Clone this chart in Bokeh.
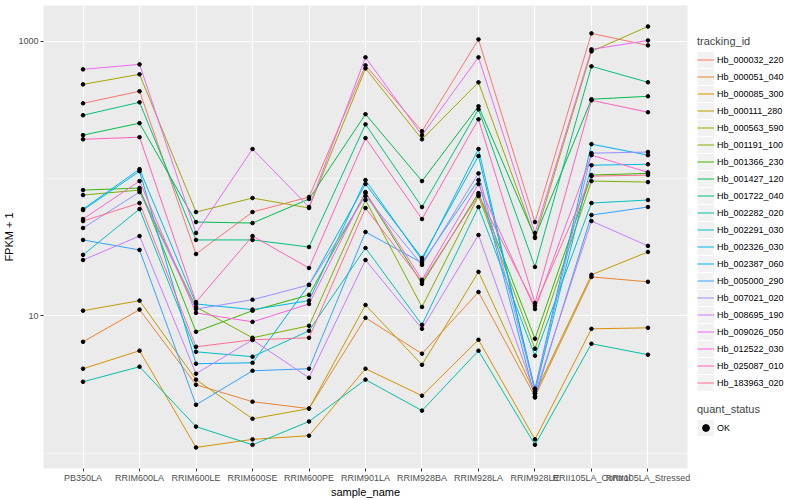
from bokeh.plotting import figure
from bokeh.layouts import row
from bokeh.models import FactorRange, Range1d, FixedTicker, PrintfTickFormatter, Legend, LegendItem
from bokeh.embed import file_html
from bokeh.resources import INLINE

sample_name = ["PB350LA", "RRIM600LA", "RRIM600LE", "RRIM600SE", "RRIM600PE", "RRIM901LA",
               "RRIM928BA", "RRIM928LA", "RRIM928LE", "RRII105LA_Control", "RRII105LA_Stressed"]

tracking_id = ["Hb_000032_220", "Hb_000051_040", "Hb_000085_300", "Hb_000111_280", "Hb_000563_590",
               "Hb_001191_100", "Hb_001366_230", "Hb_001427_120", "Hb_001722_040", "Hb_002282_020",
               "Hb_002291_030", "Hb_002326_030", "Hb_002387_060", "Hb_005000_290", "Hb_007021_020",
               "Hb_008695_190", "Hb_009026_050", "Hb_012522_030", "Hb_025087_010", "Hb_183963_020"]

line_colors = ["#F8766D", "#EA8331", "#D89000", "#C09B00", "#A3A500", "#7CAE00", "#39B600", "#00BB4E",
               "#00BF7D", "#00C1A3", "#00BFC4", "#00BAE0", "#00B0F6", "#35A2FF", "#9590FF", "#C77CFF",
               "#E76BF3", "#FA62DB", "#FF62BC", "#FF6C91"]

# FPKM + 1 per gene, in sample_name order
Hb_000032_220 = [353, 432, 28.2, 57.0, 73.3, 667, 221, 1031, 48.2, 1140, 932]
Hb_000051_040 = [6.47, 11.1, 3.15, 2.37, 2.11, 9.67, 5.30, 14.9, 2.58, 19.2, 17.7]
Hb_000085_300 = [4.12, 5.57, 1.10, 1.26, 1.34, 4.12, 2.62, 6.69, 1.26, 8.04, 8.18]
Hb_000111_280 = [10.9, 12.9, 3.43, 1.78, 2.11, 12.0, 4.40, 20.9, 2.71, 19.9, 29.2]
Hb_000563_590 = [485, 574, 57.0, 72.1, 61.0, 634, 193, 502, 36.9, 843, 1280]
Hb_001191_100 = [75.8, 82.4, 11.6, 6.92, 8.46, 69.7, 11.6, 74.5, 5.76, 95.8, 94.2]
Hb_001366_230 = [82.4, 85.2, 7.65, 10.9, 14.2, 78.3, 17.1, 78.3, 6.81, 106, 109]
Hb_001427_120 = [207, 253, 48.2, 47.4, 70.9, 294, 95.8, 336, 37.5, 378, 397]
Hb_001722_040 = [289, 359, 35.7, 35.7, 31.7, 248, 62.0, 319, 22.7, 656, 502]
Hb_002282_020 = [3.31, 4.26, 1.56, 1.15, 1.70, 3.43, 2.04, 5.57, 1.15, 6.26, 5.21]
Hb_002291_030 = [27.8, 59.9, 5.47, 5.04, 7.78, 31.2, 8.60, 62.0, 5.12, 66.3, 69.7]
Hb_002326_030 = [59.9, 117, 12.2, 11.1, 12.9, 97.4, 25.5, 164, 2.80, 125, 127]
Hb_002387_060 = [58.9, 113, 4.48, 4.55, 16.8, 91.1, 26.4, 146, 2.95, 178, 148]
Hb_005000_290 = [35.7, 30.2, 2.25, 3.98, 4.12, 40.8, 24.3, 97.4, 2.54, 54.2, 62.0]
Hb_007021_020 = [43.6, 79.7, 11.2, 13.1, 16.8, 74.5, 23.5, 109, 2.90, 153, 156]
Hb_008695_190 = [25.5, 38.1, 3.79, 6.69, 3.54, 25.5, 8.04, 38.8, 2.71, 49.0, 32.3]
Hb_009026_050 = [624, 678, 40.1, 164, 62.0, 763, 207, 763, 40.1, 872, 1013]
Hb_012522_030 = [50.7, 95.8, 10.5, 9.04, 12.2, 79.7, 18.3, 91.1, 11.2, 148, 111]
Hb_025087_010 = [193, 200, 12.6, 38.1, 22.3, 197, 50.7, 270, 12.4, 371, 304]
Hb_183963_020 = [49.0, 66.3, 5.95, 6.69, 6.92, 61.0, 17.7, 75.8, 11.8, 104, 106]

fpkm_plus_1 = [Hb_000032_220, Hb_000051_040, Hb_000085_300, Hb_000111_280, Hb_000563_590,
               Hb_001191_100, Hb_001366_230, Hb_001427_120, Hb_001722_040, Hb_002282_020,
               Hb_002291_030, Hb_002326_030, Hb_002387_060, Hb_005000_290, Hb_007021_020,
               Hb_008695_190, Hb_009026_050, Hb_012522_030, Hb_025087_010, Hb_183963_020]

quant_status = ["OK"]
y_ticks = [10, 1000]
y_minor_ticks = [1, 100]

FONT = "Liberation Sans"
MAIN_W, LEG_W, H = 690, 110, 500

p = figure(width=MAIN_W, height=H, output_backend="svg", toolbar_location=None,
           x_range=FactorRange(factors=sample_name, range_padding=0.2, range_padding_units="absolute"),
           y_range=Range1d(0.773, 1820), y_axis_type="log",
           min_border_left=0, min_border_right=3, min_border_top=5, min_border_bottom=0)

p.background_fill_color = "#EBEBEB"
p.border_fill_color = "white"
p.outline_line_color = None

for col, vals in zip(line_colors, fpkm_plus_1):
    p.line(x=sample_name, y=vals, line_color=col, line_width=1.0)
for vals in fpkm_plus_1:
    p.scatter(x=sample_name, y=vals, size=3.6, fill_color="black", line_color="black")

# axes
p.yaxis.ticker = FixedTicker(ticks=y_ticks, minor_ticks=y_minor_ticks)
p.yaxis.formatter = PrintfTickFormatter(format="%d")
for ax in (p.xaxis[0], p.yaxis[0]):
    ax.axis_line_color = None
    ax.major_tick_line_color = "#333333"
    ax.major_tick_out = 3
    ax.major_tick_in = 0
    ax.minor_tick_line_color = None
    ax.major_label_text_color = "#4D4D4D"
    ax.major_label_text_font = FONT
    ax.major_label_text_font_size = "9px"
    ax.major_label_standoff = 1
    ax.axis_label_text_font = FONT
    ax.axis_label_text_font_size = "11px"
    ax.axis_label_text_font_style = "normal"
    ax.axis_label_text_color = "black"
    ax.axis_label_standoff = 0
p.xaxis.axis_label = "sample_name"
p.yaxis.axis_label = "FPKM + 1"

p.xgrid.grid_line_color = "white"
p.xgrid.grid_line_width = 1
p.ygrid.grid_line_color = "white"
p.ygrid.grid_line_width = 1
p.ygrid.minor_grid_line_color = "white"
p.ygrid.minor_grid_line_width = 0.5

# legend panel (separate figure, frame aligned with the main plot)
lp = figure(width=LEG_W, height=H, output_backend="svg", toolbar_location=None,
            x_range=Range1d(0, 1), y_range=Range1d(0, 1),
            x_axis_location=None, y_axis_location=None,
            min_border_left=0, min_border_right=0, min_border_top=0, min_border_bottom=0)
lp.outline_line_color = None
lp.grid.visible = False
lp.background_fill_color = "white"

KEY = 17
off_x, off_y = [-10], [-10]   # legend-only renderers, kept off screen
key_bg = lp.line(x=off_x, y=off_y, line_color="#F2F2F2", line_width=16, line_cap="butt")
leg_lines = [lp.line(x=off_x, y=off_y, line_color=c, line_width=1.0) for c in line_colors]
leg_pt = lp.scatter(x=off_x, y=off_y, size=3.6, fill_color="black", line_color="black")

leg1 = Legend(items=[LegendItem(label=t, renderers=[key_bg, r]) for t, r in zip(tracking_id, leg_lines)],
              title="tracking_id", location=(7, 77))
leg2 = Legend(items=[LegendItem(label=quant_status[0], renderers=[key_bg, leg_pt])],
              title="quant_status", location=(7, 32))
for lg in (leg1, leg2):
    lg.glyph_width = KEY
    lg.glyph_height = KEY
    lg.label_height = KEY
    lg.spacing = 0
    lg.padding = 0
    lg.margin = 0
    lg.label_standoff = 3
    lg.label_text_font = FONT
    lg.label_text_font_size = "9px"
    lg.label_text_color = "black"
    lg.title_text_font = FONT
    lg.title_text_font_size = "11px"
    lg.title_text_font_style = "normal"
    lg.title_standoff = 4
    lg.border_line_color = None
    lg.background_fill_alpha = 0
    lp.add_layout(lg)

layout = row(p, lp, spacing=0)
open("out.html", "w").write(file_html(layout, INLINE))
